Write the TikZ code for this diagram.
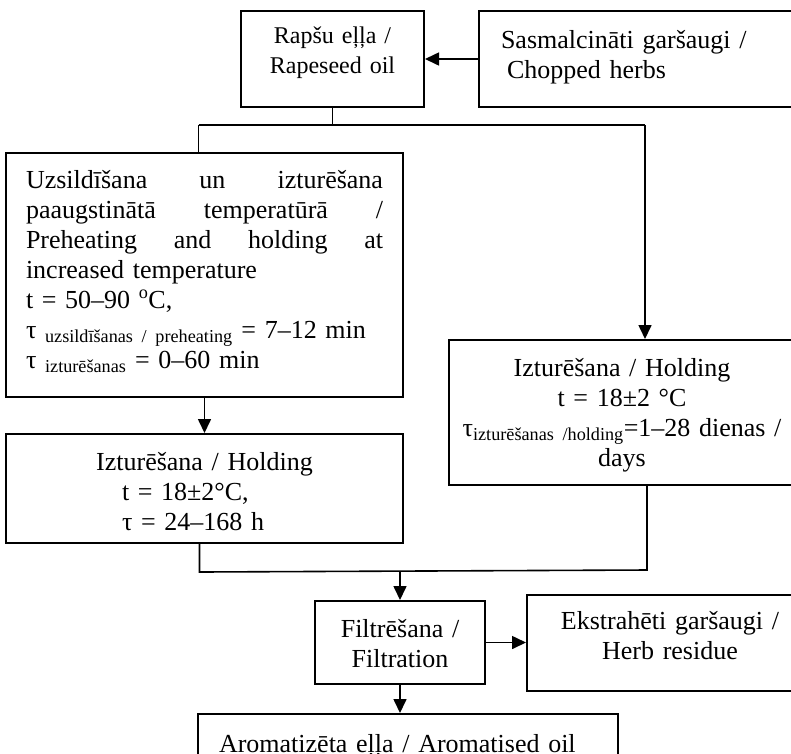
\documentclass[tikz,border=0pt]{standalone}
\usepackage{fontspec}
\setmainfont{Liberation Serif}
\usetikzlibrary{positioning,arrows.meta,calc}

\begin{document}
\begin{tikzpicture}[
      >={Triangle[length=14pt,width=13pt]},
      auto
    ]

    \tikzstyle{box} = [rectangle, draw=black, line width=2pt, inner ysep=0pt, font=\fontsize{26}{30}\selectfont]

    \tikzstyle{flow} = [line width=1.6pt]

    \useasboundingbox (0,0) rectangle (791pt,-753pt);

    \node [box, anchor=north west, text width=160pt, inner xsep=11.5pt, align=center, text height=32pt, text depth=64pt, font=\fontsize{24}{30}\selectfont] (oil) at (240pt,-10pt) {Rapšu eļļa /\\ Rapeseed oil};
    \node [box, text width=280pt, inner xsep=22pt, align=left, text height=37pt, text depth=59pt] (herbs) [node distance=53pt, right=of oil] {Sasmalcināti garšaugi /\\ \hspace*{6pt}Chopped herbs};

    \node [box, text width=357pt, inner xsep=20pt, align=left, text height=35pt, text depth=209pt] (heat) [node distance=44pt and -164pt, below left=of oil] {Uzsildīšana\hfill un\hfill izturēšana\\
    paaugstinātā\hfill temperatūrā\hfill /\\
    Preheating\hfill and\hfill holding\hfill at\\
    increased temperature\\
    t = 50–90 \textsuperscript{o}C,\\
    τ \textsubscript{uzsildīšanas / preheating} = 7–12 min\\
    τ \textsubscript{izturēšanas} = 0–60 min};
    \node [box, text width=357pt, inner xsep=20pt, align=left, text height=36pt, text depth=73pt] (hold1) [node distance=35pt, below=of heat] {\makebox[357pt][c]{Izturēšana / Holding}\\
    \hspace*{96pt}t = 18±2°C,\\
    \hspace*{96pt}τ = 24–168 h};

    \node [box, text width=326pt, inner xsep=10pt, align=center, text height=36pt, text depth=109pt] (hold2) [node distance=187pt and 44pt, below right=of heat.north east] {Izturēšana / Holding\\
    t = 18±2 °C\\
    τ\textsubscript{izturēšanas /holding}=1–28 dienas /\\
    days};

    \node [box, text width=150pt, inner xsep=10pt, align=center, text height=36pt, text depth=47pt] (filter) [node distance=56pt and -90pt, below right=of hold1.south east] {Filtrēšana /\\ Filtration};
    \node [box, text width=266pt, inner xsep=10pt, align=center, text height=35pt, text depth=61pt] (residue) [node distance=40pt, right=of filter] {Ekstrahēti garšaugi /\\ Herb residue};
    \node [box, text width=378pt, inner xsep=21pt, align=left, text height=38pt, text depth=64pt] (product) [node distance=28pt and -117pt, below right=of filter.south west] {Aromatizēta eļļa / Aromatised oil};

    % split below the oil and join above the filter
    \coordinate (splitL) at ($(heat.north)+(-6pt,27pt)$);
    \coordinate (splitR) at ($(hold2.north)+(23pt,214pt)$);
    \coordinate (joinL) at ($(hold1.south)+(-5pt,-28pt)$);
    \coordinate (joinR) at ($(hold2.south)+(25pt,-84pt)$);

    \draw [flow, ->] (herbs.west) -- (oil.east);
    \draw [flow] (oil.south) -- (oil.south |- splitL);
    \draw [flow] (splitL) -- (splitR);
    \draw [flow] (splitL) -- (splitL |- heat.north);
    \draw [flow, ->] (splitR) -- (splitR |- hold2.north);

    \draw [flow, ->] (heat.south) -- (hold1.north);

    \draw [flow] (hold1.south -| joinL) -- (joinL) -- (joinR) -- (hold2.south -| joinR);
    \draw [flow, ->] (filter.north |- joinL) -- (filter.north);

    \draw [flow, ->] (filter.east) -- (residue.west);
    \draw [flow, ->] (filter.south) -- (filter.south |- product.north);

\end{tikzpicture}
\end{document}
